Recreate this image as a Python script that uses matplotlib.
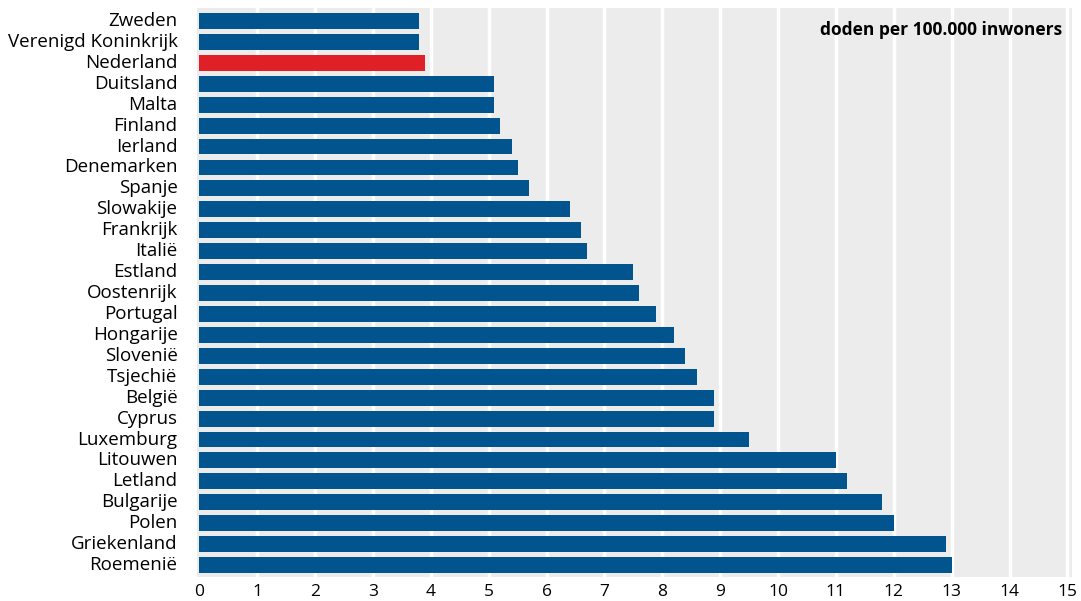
import matplotlib.pyplot as plt

# data: verkeersdoden per 100.000 inwoners
landen = ["Zweden", "Verenigd Koninkrijk", "Nederland", "Duitsland", "Malta",
          "Finland", "Ierland", "Denemarken", "Spanje", "Slowakije", "Frankrijk",
          "Italië", "Estland", "Oostenrijk", "Portugal", "Hongarije", "Slovenië",
          "Tsjechië", "België", "Cyprus", "Luxemburg", "Litouwen", "Letland",
          "Bulgarije", "Polen", "Griekenland", "Roemenië"]
doden = [3.8, 3.8, 3.9, 5.1, 5.1, 5.2, 5.4, 5.5, 5.7, 6.4, 6.6, 6.7, 7.5, 7.6,
         7.9, 8.2, 8.4, 8.6, 8.9, 8.9, 9.5, 11.0, 11.2, 11.8, 12.0, 12.9, 13.0]
x_ticks = list(range(0, 16))

blauw = "#02548F"
rood = "#E02027"
kleuren = [rood if l == "Nederland" else blauw for l in landen]

plt.rcParams['font.family'] = ['Open Sans', 'DejaVu Sans']

fig = plt.figure(figsize=(10.81, 6.01), dpi=100)
ax = fig.add_axes([197 / 1081, 1 - 577 / 601, (1072 - 197) / 1081, (577 - 8) / 601])
ax.set_facecolor("#ECECEC")

ax.barh(range(len(landen)), doden, height=0.76, color=kleuren, zorder=3)

ax.set_xlim(-0.04, 15.08)
ax.set_ylim(26.57, -0.62)
ax.set_xticks(x_ticks)
ax.set_xticklabels([str(t) for t in x_ticks], fontsize=12.5)
ax.set_yticks(range(len(landen)))
ax.set_yticklabels(landen, fontsize=13.5)
ax.tick_params(length=0, pad=5)
ax.tick_params(axis="y", pad=14)
for lbl in ax.get_yticklabels():
    lbl.set_va("center")

for t in x_ticks[1:]:
    ax.axvline(t, color="white", lw=2.5, zorder=1)

for s in ax.spines.values():
    s.set_visible(False)

ax.text(0.989, 0.978, "doden per 100.000 inwoners", transform=ax.transAxes,
        ha="right", va="top", fontsize=12.5, fontweight="bold")

fig.savefig("out.png", dpi=100)
